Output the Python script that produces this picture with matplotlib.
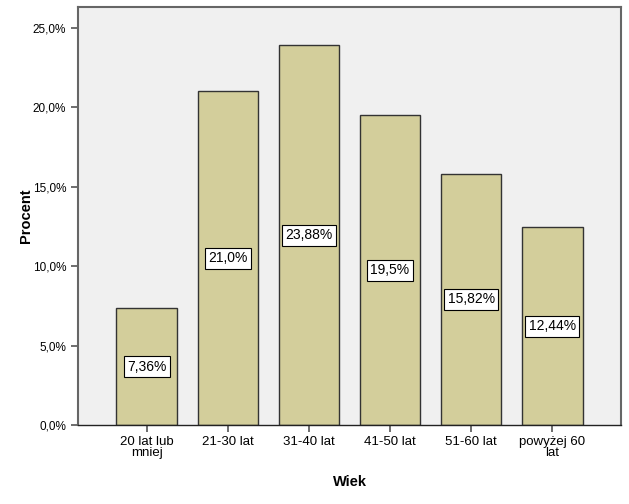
import matplotlib.pyplot as plt
from matplotlib.ticker import FuncFormatter

plt.rcParams['font.family'] = ['Liberation Sans', 'DejaVu Sans']

# dane
kategorie = ["20 lat lub\nmniej", "21-30 lat", "31-40 lat", "41-50 lat", "51-60 lat", "powyżej 60\nlat"]
procent = [7.36, 21.0, 23.88, 19.5, 15.82, 12.44]
etykiety = ["7,36%", "21,0%", "23,88%", "19,5%", "15,82%", "12,44%"]

fig = plt.figure(figsize=(6.29, 5.04), dpi=100)
ax = fig.add_axes([78 / 629, 1 - 425 / 504, 543 / 629, 418 / 504])
ax.set_facecolor('#F0F0F0')

x = list(range(len(kategorie)))
ax.bar(x, procent, width=0.75, color='#D3CE9B', edgecolor='#333333', linewidth=1.0, zorder=2)

for xi, v, lab in zip(x, procent, etykiety):
    ax.text(xi, v / 2, lab, ha='center', va='center', fontsize=10, zorder=3,
            bbox=dict(boxstyle='square,pad=0.25', facecolor='white', edgecolor='black', linewidth=0.8))

ax.set_xlim(-0.85, 5.85)
ax.set_ylim(0, 26.3)
ax.set_yticks([0, 5, 10, 15, 20, 25])
ax.yaxis.set_major_formatter(FuncFormatter(lambda v, p: f"{v:.1f}".replace('.', ',') + '%'))
ax.set_xticks(x)
ax.set_xticklabels(kategorie, linespacing=0.85, fontsize=9.5)
ax.tick_params(axis='y', labelsize=8.5)
ax.tick_params(axis='both', length=5, width=1.2, color='#555555')
ax.tick_params(axis='x', pad=3)

for s in ax.spines.values():
    s.set_color('#666666')
    s.set_linewidth(1.5)
ax.spines['bottom'].set_color('#222222')
ax.spines['bottom'].set_linewidth(1.0)

ax.set_ylabel("Procent", fontsize=10.5, fontweight='bold', labelpad=0)
ax.set_xlabel("Wiek", fontsize=10.5, fontweight='bold', labelpad=12)

fig.savefig("out.png", dpi=100)
